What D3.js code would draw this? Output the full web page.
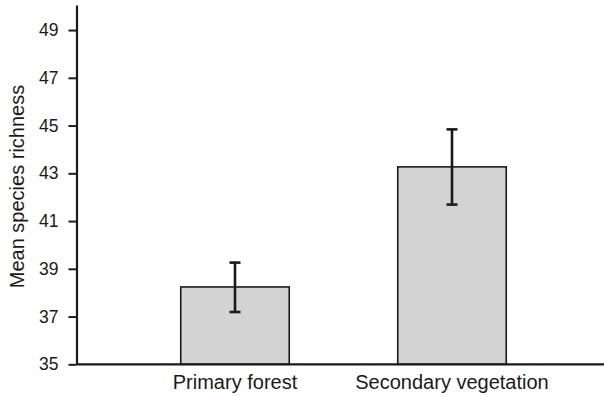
<!DOCTYPE html>
<html>
<head>
<meta charset="utf-8">
<script src="https://cdn.jsdelivr.net/npm/d3@7"></script>
<style>
  body { margin: 0; background: #fff; }
  text { font-family: "Liberation Sans", Arial, Helvetica, sans-serif; fill: #1a1a1a; }
</style>
</head>
<body>
<div id="chart"></div>
<script>
// data
const categories = ["Primary forest", "Secondary vegetation"];
const means = [38.24, 43.27];
const errLow = [37.19, 41.69];
const errHigh = [39.26, 44.84];
const yTicks = [35, 37, 39, 41, 43, 45, 47, 49];

const width = 604, height = 397;
const axisX = 76.5, baseY = 364.3;

const svg = d3.select("#chart")
    .append("svg")
    .attr("width", width)
    .attr("height", height);

// scales
const y = d3.scaleLinear()
    .domain([35, 50.05])
    .range([baseY, 5]);

const x = d3.scaleBand()
    .domain(categories)
    .range([126.5, 560.5])
    .paddingInner(0.5)
    .paddingOuter(0.25);

// bars
svg.selectAll(".bar")
    .data(categories)
    .enter()
    .append("rect")
    .attr("class", "bar")
    .attr("x", d => x(d))
    .attr("y", (d, i) => y(means[i]))
    .attr("width", x.bandwidth())
    .attr("height", (d, i) => baseY - y(means[i]))
    .attr("fill", "#d3d3d3")
    .attr("stroke", "#1a1a1a")
    .attr("stroke-width", 1.6);

// error bars
const err = svg.selectAll(".err")
    .data(categories)
    .enter()
    .append("g")
    .attr("class", "err")
    .attr("stroke", "#1a1a1a")
    .attr("stroke-width", 2.6);

err.append("line")
    .attr("x1", d => x(d) + x.bandwidth() / 2)
    .attr("x2", d => x(d) + x.bandwidth() / 2)
    .attr("y1", (d, i) => y(errLow[i]))
    .attr("y2", (d, i) => y(errHigh[i]));

err.append("line")
    .attr("x1", d => x(d) + x.bandwidth() / 2 - 5.5)
    .attr("x2", d => x(d) + x.bandwidth() / 2 + 5.5)
    .attr("y1", (d, i) => y(errHigh[i]))
    .attr("y2", (d, i) => y(errHigh[i]));

err.append("line")
    .attr("x1", d => x(d) + x.bandwidth() / 2 - 5.5)
    .attr("x2", d => x(d) + x.bandwidth() / 2 + 5.5)
    .attr("y1", (d, i) => y(errLow[i]))
    .attr("y2", (d, i) => y(errLow[i]));

// y axis
const yAxis = svg.append("g")
    .attr("transform", `translate(${axisX},0)`)
    .call(d3.axisLeft(y).tickValues(yTicks).tickSize(8).tickPadding(10).tickSizeOuter(0));

yAxis.select(".domain").attr("stroke", "#1a1a1a").attr("stroke-width", 2.2);
yAxis.selectAll(".tick line").attr("stroke", "#1a1a1a").attr("stroke-width", 2);
yAxis.selectAll(".tick text")
    .style("font-size", "17.5px")
    .attr("fill", "#1a1a1a");

// x axis
const xAxis = svg.append("g")
    .attr("transform", `translate(0,${baseY})`);

xAxis.append("line")
    .attr("x1", axisX)
    .attr("x2", width)
    .attr("stroke", "#1a1a1a")
    .attr("stroke-width", 2.2);

xAxis.selectAll(".xlab")
    .data(categories)
    .enter()
    .append("text")
    .attr("class", "xlab")
    .attr("x", d => x(d) + x.bandwidth() / 2)
    .attr("y", 25)
    .attr("text-anchor", "middle")
    .style("font-size", "20px")
    .text(d => d);

// y label
svg.append("text")
    .attr("transform", "translate(23.5,186.5) rotate(-90)")
    .attr("text-anchor", "middle")
    .style("font-size", "20px")
    .text("Mean species richness");
</script>
</body>
</html>
